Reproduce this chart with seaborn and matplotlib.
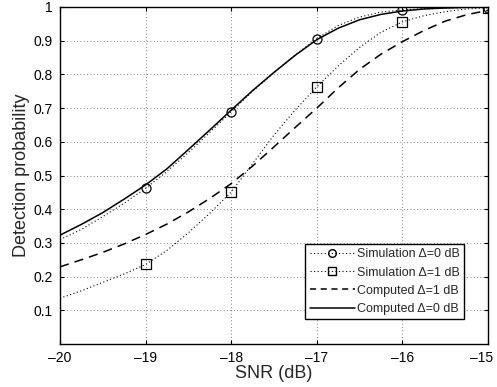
import numpy as np
import pandas as pd
import matplotlib
matplotlib.use('Agg')
import matplotlib.pyplot as plt
import matplotlib.transforms as mtransforms
import seaborn as sns
from matplotlib.lines import Line2D

# puntos de simulacion (enteros)
snr_sim = [-19, -18, -17, -16, -15]
sim_d0 = [0.462, 0.689, 0.906, 0.991, 0.997]
sim_d1 = [0.236, 0.451, 0.763, 0.956, 0.998]

# curvas leidas cada 0.25 dB
snr_curve = [-20, -19.75, -19.5, -19.25, -19, -18.75, -18.5, -18.25, -18, -17.75, -17.5,
             -17.25, -17, -16.75, -16.5, -16.25, -16, -15.75, -15.5, -15.25, -15]
comp_d0 = [0.323, 0.355, 0.390, 0.430, 0.472, 0.520, 0.577, 0.635, 0.694, 0.752, 0.806,
           0.857, 0.903, 0.937, 0.962, 0.978, 0.988, 0.994, 0.997, 0.999, 1.0]
comp_d1 = [0.229, 0.250, 0.272, 0.297, 0.325, 0.356, 0.392, 0.432, 0.476, 0.528, 0.585,
           0.643, 0.700, 0.760, 0.815, 0.860, 0.897, 0.930, 0.958, 0.977, 0.990]
dot_d0 = [0.310, 0.340, 0.378, 0.418, 0.462, 0.512, 0.568, 0.628, 0.689, 0.750, 0.805,
          0.858, 0.906, 0.945, 0.970, 0.985, 0.991, 0.995, 0.997, 0.998, 0.999]
dot_d1 = [0.136, 0.158, 0.183, 0.208, 0.236, 0.278, 0.330, 0.388, 0.451, 0.535, 0.620,
          0.695, 0.763, 0.825, 0.880, 0.925, 0.956, 0.974, 0.986, 0.994, 0.998]

x_ticks = [-20, -19, -18, -17, -16, -15]
x_labels = ['–20', '–19', '–18', '–17', '–16', '–15']
y_ticks = [0.1, 0.2, 0.3, 0.4, 0.5, 0.6, 0.7, 0.8, 0.9, 1]
y_labels = ['0.1', '0.2', '0.3', '0.4', '0.5', '0.6', '0.7', '0.8', '0.9', '1']

sns.set_style('ticks')
plt.rcParams['font.family'] = ['Liberation Sans', 'DejaVu Sans']

fig = plt.figure(figsize=(4.97, 3.87), dpi=100)
ax = fig.add_axes([0.1207, 0.111, 0.8612, 0.871])

curvas = pd.DataFrame({'snr': snr_curve, 'c0': comp_d0, 'c1': comp_d1,
                       'd0': dot_d0, 'd1': dot_d1})
sim = pd.DataFrame({'snr': snr_sim, 's0': sim_d0, 's1': sim_d1})

dots = (0, (1, 2.2))
sns.lineplot(data=curvas, x='snr', y='d0', ax=ax, color='black', lw=0.8, linestyle=dots)
sns.lineplot(data=curvas, x='snr', y='d1', ax=ax, color='black', lw=0.8, linestyle=dots)
sns.lineplot(data=curvas, x='snr', y='c1', ax=ax, color='black', lw=1.1, linestyle=(0, (6, 4)))
sns.lineplot(data=curvas, x='snr', y='c0', ax=ax, color='black', lw=1.1)
ax.plot(sim['snr'], sim['s0'], 'o', mfc='none', mec='black', ms=6.5, mew=0.9, zorder=5)
ax.plot(sim['snr'], sim['s1'], 's', mfc='none', mec='black', ms=6.5, mew=0.9, zorder=5)

ax.set_xlim(-20, -15)
ax.set_ylim(0, 1)
ax.set_xticks(x_ticks)
ax.set_xticklabels(x_labels)
ax.set_yticks(y_ticks)
ax.set_yticklabels(y_labels)
ax.grid(True, color='#555555', linestyle=(0, (1, 3)), lw=0.6)
ax.tick_params(direction='in', length=3, labelsize=10, top=True, right=True,
               colors='black', pad=5)
for s in ax.spines.values():
    s.set_visible(True)
    s.set_color('black')
    s.set_linewidth(1.0)
ax.set_xlabel('SNR (dB)', fontsize=13, labelpad=0)
ax.set_ylabel('Detection probability', fontsize=13, labelpad=3)

# la ultima etiqueta un poco a la izquierda para que no se corte
last = ax.get_xticklabels()[-1]
last.set_transform(last.get_transform() +
                   mtransforms.ScaledTranslation(-6 / 100, 0, fig.dpi_scale_trans))

handles = [
    Line2D([], [], color='black', lw=0.8, linestyle=dots, marker='o', mfc='none', ms=5.5),
    Line2D([], [], color='black', lw=0.8, linestyle=dots, marker='s', mfc='none', ms=5.5),
    Line2D([], [], color='black', lw=1.1, linestyle=(0, (4, 3))),
    Line2D([], [], color='black', lw=1.1),
]
labels = ['Simulation Δ=0 dB', 'Simulation Δ=1 dB', 'Computed Δ=1 dB', 'Computed Δ=0 dB']
leg = ax.legend(handles, labels, loc='lower right', bbox_to_anchor=(0.945, 0.073),
                fontsize=9, frameon=True, fancybox=False, framealpha=1,
                edgecolor='black', handlelength=3.6, handletextpad=0.2,
                borderpad=0.35, labelspacing=0.5, borderaxespad=0)
leg.get_frame().set_linewidth(1.0)

fig.savefig('out.png', dpi=100)
